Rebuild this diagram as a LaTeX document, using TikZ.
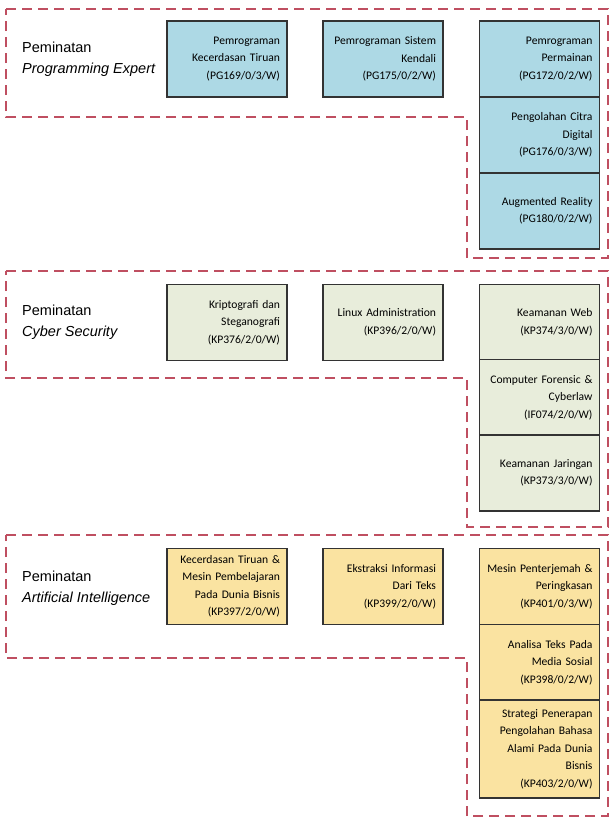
\documentclass[tikz,border=0pt]{standalone}
\usepackage{fontspec}
\setmainfont{Liberation Sans}
\newfontfamily\mkfont{Carlito}
\usepackage{tikz}
\usetikzlibrary{shapes}
\definecolor{mkblue}{rgb}{0.68,0.85,0.90}
\definecolor{mkgreen}{rgb}{0.91,0.93,0.86}
\definecolor{mkyellow}{rgb}{0.98,0.89,0.63}
\definecolor{mkborder}{rgb}{0.75,0.31,0.38}
\tikzstyle{mkbox}=[rectangle, draw=black!80, line width=1.2pt, text width=106pt, inner xsep=7pt, inner ysep=2pt, minimum height=76pt, align=right, font=\mkfont\fontsize{11.6}{17.5}\selectfont]
\tikzstyle{mklabel}=[anchor=west, inner sep=0pt, align=left, font=\fontsize{14.5}{21}\selectfont]
\tikzstyle{mkregion}=[draw=mkborder, line width=1.3pt, dash pattern=on 10pt off 6pt]
\newcommand{\mkcourse}[4]{
	\node[mkbox, fill=#1] (#2) at (#3) {#4};}
\newcommand{\mkpeminatan}[3]{
	\node[mklabel] (#1) at (#2) {Peminatan\\\textit{#3}};}

\begin{document}
\begin{tikzpicture}[x=1pt,y=-1pt]
\useasboundingbox (0,0) rectangle (612,819);
\draw[mkregion] (6,9) -- (608,9) -- (608,258) -- (467,258) -- (467,117) -- (6,117) -- cycle;
\draw[mkregion] (6,271) -- (608,271) -- (608,527) -- (467,527) -- (467,378) -- (6,378) -- cycle;
\draw[mkregion] (6,535) -- (608,535) -- (608,816) -- (467,816) -- (467,658) -- (6,658) -- cycle;
\mkpeminatan{pe}{22,59}{Programming Expert}
\mkcourse{mkblue}{pe1}{227,59}{Pemrograman\\Kecerdasan Tiruan\\(PG169/0/3/W)}
\mkcourse{mkblue}{pe2}{383,59}{Pemrograman Sistem\\Kendali\\(PG175/0/2/W)}
\mkcourse{mkblue}{pe3}{539.5,59}{Pemrograman\\Permainan\\(PG172/0/2/W)}
\mkcourse{mkblue}{pe4}{539.5,135}{Pengolahan Citra\\Digital\\(PG176/0/3/W)}
\mkcourse{mkblue}{pe5}{539.5,211}{Augmented Reality\\(PG180/0/2/W)}
\mkpeminatan{cs}{22,322}{Cyber Security}
\mkcourse{mkgreen}{cs1}{227,322.5}{Kriptografi dan\\Steganografi\\(KP376/2/0/W)}
\mkcourse{mkgreen}{cs2}{383,322.5}{Linux Administration\\(KP396/2/0/W)}
\mkcourse{mkgreen}{cs3}{539.5,322.5}{Keamanan Web\\(KP374/3/0/W)}
\mkcourse{mkgreen}{cs4}{539.5,397.5}{Computer Forensic \&\\Cyberlaw\\(IF074/2/0/W)}
\mkcourse{mkgreen}{cs5}{539.5,473}{Keamanan Jaringan\\(KP373/3/0/W)}
\mkpeminatan{ai}{22,588}{Artificial Intelligence}
\mkcourse{mkyellow}{ai1}{227,586.5}{Kecerdasan Tiruan \&\\Mesin Pembelajaran\\Pada Dunia Bisnis\\(KP397/2/0/W)}
\mkcourse{mkyellow}{ai2}{383,586.5}{Ekstraksi Informasi\\Dari Teks\\(KP399/2/0/W)}
\mkcourse{mkyellow}{ai3}{539.5,586.5}{Mesin Penterjemah \&\\Peringkasan\\(KP401/0/3/W)}
\mkcourse{mkyellow}{ai4}{539.5,662.5}{Analisa Teks Pada\\Media Sosial\\(KP398/0/2/W)}
\node[mkbox, fill=mkyellow, minimum height=98pt] (ai5) at (539.5,749) {Strategi Penerapan\\Pengolahan Bahasa\\Alami Pada Dunia\\Bisnis\\(KP403/2/0/W)};
\end{tikzpicture}
\end{document}
